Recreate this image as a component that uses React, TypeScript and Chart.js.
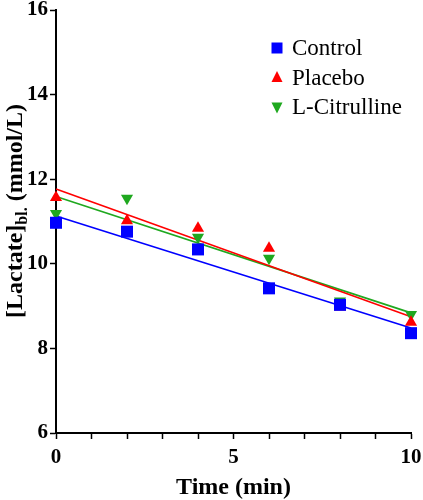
import React, { useEffect, useRef } from "react";
import { Chart, registerables } from "chart.js";

Chart.register(...registerables);

const times = [0, 2, 4, 6, 8, 10];
const control = [10.97, 10.76, 10.34, 9.42, 9.03, 8.36];
const placebo = [11.57, 11.02, 10.84, 10.37, 8.98, 8.62];
const citrulline = [11.19, 11.55, 10.63, 10.13, 9.12, 8.8];

const fitX = [0, 10];
const controlFit = [11.13, 8.48];
const placeboFit = [11.77, 8.75];
const citrullineFit = [11.59, 8.84];

const seriesLabels = ["Control", "Placebo", "L-Citrulline"];
const xTickLabels = [0, 5, 10];
const yTitleMain = "[Lactate]";
const yTitleSub = "bl.";
const yTitleTail = " (mmol/L)";
const xTitle = "Time (min)";

const BLUE = "#0000FF";
const RED = "#FF0000";
const GREEN = "#1FA81F";
const FONT = "'Liberation Serif', 'Times New Roman', serif";

const pts = (xs: number[], ys: number[]) => xs.map((x, i) => ({ x, y: ys[i] }));

function drawMarker(ctx: CanvasRenderingContext2D, kind: string, x: number, y: number, s: number, color: string) {
  ctx.fillStyle = color;
  ctx.beginPath();
  if (kind === "rect") {
    ctx.rect(x - s / 2, y - s / 2, s, s);
  } else if (kind === "up") {
    ctx.moveTo(x, y - s * 0.6);
    ctx.lineTo(x + s / 2, y + s * 0.4);
    ctx.lineTo(x - s / 2, y + s * 0.4);
    ctx.closePath();
  } else {
    ctx.moveTo(x, y + s * 0.6);
    ctx.lineTo(x + s / 2, y - s * 0.4);
    ctx.lineTo(x - s / 2, y - s * 0.4);
    ctx.closePath();
  }
  ctx.fill();
}

const overlayPlugin = {
  id: "overlay",
  afterDraw(chart: any) {
    const ctx: CanvasRenderingContext2D = chart.ctx;
    ctx.save();
    const mainFont = `bold 24px ${FONT}`;
    const subFont = `bold 16px ${FONT}`;
    ctx.font = mainFont;
    const w1 = ctx.measureText(yTitleMain).width;
    const w3 = ctx.measureText(yTitleTail).width;
    ctx.font = subFont;
    const w2 = ctx.measureText(yTitleSub).width;
    const total = w1 + w2 + w3;
    ctx.translate(22, 211);
    ctx.rotate(-Math.PI / 2);
    ctx.fillStyle = "#000";
    ctx.textBaseline = "alphabetic";
    ctx.textAlign = "left";
    let x0 = -total / 2;
    ctx.font = mainFont;
    ctx.fillText(yTitleMain, x0, 0);
    x0 += w1;
    ctx.font = subFont;
    ctx.fillText(yTitleSub, x0, 5);
    x0 += w2;
    ctx.font = mainFont;
    ctx.fillText(yTitleTail, x0, 0);
    ctx.restore();

    ctx.save();
    const kinds = ["rect", "up", "down"];
    const colors = [BLUE, RED, GREEN];
    const rowY = [48, 77.5, 107];
    ctx.font = `23px ${FONT}`;
    ctx.textBaseline = "middle";
    ctx.textAlign = "left";
    for (let i = 0; i < seriesLabels.length; i++) {
      drawMarker(ctx, kinds[i], 277, rowY[i], 11, colors[i]);
      ctx.fillStyle = "#000";
      ctx.fillText(seriesLabels[i], 292, rowY[i] + 1);
    }
    ctx.restore();
  },
};

export default function App() {
  const ref = useRef<HTMLCanvasElement | null>(null);
  useEffect(() => {
    document.body.style.margin = "0";
    const canvas = ref.current!;
    const markerCommon = { showLine: false, borderWidth: 0, pointBorderWidth: 0, clip: false };
    const lineCommon = { type: "line" as const, pointRadius: 0, borderWidth: 1.6, fill: false, order: 10, clip: false };
    const chart = new Chart(canvas, {
      type: "scatter",
      data: {
        datasets: [
          { ...lineCommon, label: "fitC", data: pts(fitX, controlFit), borderColor: BLUE },
          { ...lineCommon, label: "fitP", data: pts(fitX, placeboFit), borderColor: RED },
          { ...lineCommon, label: "fitL", data: pts(fitX, citrullineFit), borderColor: GREEN },
          {
            ...markerCommon,
            label: seriesLabels[2],
            data: pts(times, citrulline),
            pointStyle: "triangle",
            rotation: 180,
            pointRadius: 7,
            backgroundColor: GREEN,
            borderColor: GREEN,
            order: 3,
          },
          {
            ...markerCommon,
            label: seriesLabels[1],
            data: pts(times, placebo),
            pointStyle: "triangle",
            pointRadius: 7,
            backgroundColor: RED,
            borderColor: RED,
            order: 2,
          },
          {
            ...markerCommon,
            label: seriesLabels[0],
            data: pts(times, control),
            pointStyle: "rect",
            pointRadius: 8.5,
            backgroundColor: BLUE,
            borderColor: BLUE,
            order: 1,
          },
        ] as any,
      },
      options: {
        animation: false,
        responsive: false,
        maintainAspectRatio: false,
        layout: { padding: { top: 10, right: 12, left: 0, bottom: 0 } },
        plugins: { legend: { display: false }, tooltip: { enabled: false } },
        scales: {
          x: {
            type: "linear",
            min: 0,
            max: 10,
            afterFit: (s: any) => {
              s.height = 67;
              s.paddingLeft = 0;
              s.paddingRight = 0;
            },
            afterBuildTicks: (s: any) => {
              s.ticks = times.concat([1, 3, 5, 7, 9]).sort((a, b) => a - b).map((v) => ({ value: v }));
            },
            ticks: {
              autoSkip: false,
              maxRotation: 0,
              padding: 6,
              color: "#000",
              font: { family: FONT, size: 21, weight: "bold" },
              callback: (v: any) => (xTickLabels.includes(Number(v)) ? String(v) : ""),
            },
            grid: {
              display: true,
              drawOnChartArea: false,
              drawTicks: true,
              tickLength: 6,
              tickColor: "#000",
              tickWidth: 1.5,
            },
            border: { display: true, color: "#000", width: 2 },
            title: {
              display: true,
              text: xTitle,
              color: "#000",
              font: { family: FONT, size: 24, weight: "bold" },
              padding: { top: 0, bottom: -2 },
            },
          },
          y: {
            type: "linear",
            min: 6,
            max: 16,
            afterFit: (s: any) => {
              s.width = 56;
              s.paddingTop = 0;
              s.paddingBottom = 0;
            },
            ticks: {
              stepSize: 2,
              padding: 2,
              color: "#000",
              font: { family: FONT, size: 21, weight: "bold" },
            },
            grid: {
              display: true,
              drawOnChartArea: false,
              drawTicks: true,
              tickLength: 6,
              tickColor: "#000",
              tickWidth: 1.5,
            },
            border: { display: true, color: "#000", width: 2 },
          },
        },
      } as any,
      plugins: [overlayPlugin],
    });
    return () => {
      chart.destroy();
    };
  }, []);
  return (
    <div style={{ width: 423, height: 500 }}>
      <canvas ref={ref} width={423} height={500} style={{ display: "block" }} />
    </div>
  );
}
